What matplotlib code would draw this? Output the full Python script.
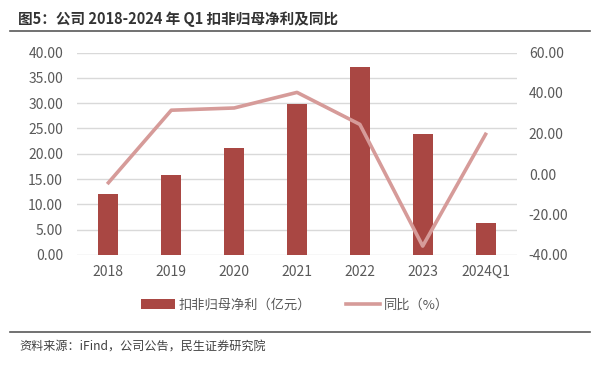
import matplotlib.pyplot as plt
import numpy as np

plt.rcParams['font.family'] = ['Noto Sans CJK SC', 'DejaVu Sans']

# données
categories = ["2018", "2019", "2020", "2021", "2022", "2023", "2024Q1"]
profit = [12.1, 15.9, 21.2, 29.8, 37.2, 23.9, 6.4]      # 扣非归母净利（亿元）
yoy = [-4.3, 31.5, 32.6, 40.3, 24.5, -35.6, 19.6]       # 同比（%）

bar_color = "#A94743"
line_color = "#D69B99"
tick_color = "#595959"
grid_color = "#D9D9D9"

fig = plt.figure(figsize=(5.96, 3.65), dpi=100)
ax = fig.add_axes([77 / 596, 1 - 255 / 365, 440 / 596, 202.5 / 365])
ax2 = ax.twinx()

x = np.arange(len(categories))
bars = ax.bar(x, profit, width=0.32, color=bar_color, zorder=2, label="扣非归母净利（亿元）")
line, = ax2.plot(x, yoy, color=line_color, lw=2.6, zorder=3, label="同比（%）")

ax.set_xlim(-0.5, len(categories) - 0.5)
ax.set_ylim(0, 40)
ax.set_yticks(np.arange(0, 40.1, 5))
ax.set_yticklabels([f"{v:.2f}" for v in np.arange(0, 40.1, 5)])
ax2.set_ylim(-40, 60)
ax2.set_yticks(np.arange(-40, 60.1, 20))
ax2.set_yticklabels([f"{v:.2f}" for v in np.arange(-40, 60.1, 20)])
ax.set_xticks(x)
ax.set_xticklabels(categories)

ax.yaxis.grid(True, color=grid_color, lw=1, zorder=0)
ax.set_axisbelow(True)
for a in (ax, ax2):
    for s in a.spines.values():
        s.set_visible(False)
    a.tick_params(length=0, labelsize=10, labelcolor=tick_color)
ax.tick_params(axis="y", pad=10)
ax.tick_params(axis="x", pad=7)
ax2.tick_params(axis="y", pad=8.5)

fig.legend(handles=[bars, line], loc="center", bbox_to_anchor=(295 / 596, 1 - 305 / 365),
           ncol=2, frameon=False, fontsize=9.5, labelcolor=tick_color,
           handlelength=2.6, handletextpad=0.3, columnspacing=2.6)

# titre + lignes de séparation
fig.text(18 / 596, 1 - 19 / 365, "图5：公司 2018-2024 年 Q1 扣非归母净利及同比",
         fontsize=10.5, fontweight="bold", color="#333333", va="center")
fig.add_artist(plt.Line2D([10 / 596, 590 / 596], [1 - 31 / 365] * 2, color="#595959", lw=1.2))
fig.add_artist(plt.Line2D([10 / 596, 590 / 596], [1 - 332 / 365] * 2, color="#595959", lw=1.2))
fig.text(19 / 596, 1 - 347 / 365, "资料来源：iFind，公司公告，民生证券研究院",
         fontsize=8.7, color="#404040", va="center")

fig.savefig("out.png", dpi=100)
